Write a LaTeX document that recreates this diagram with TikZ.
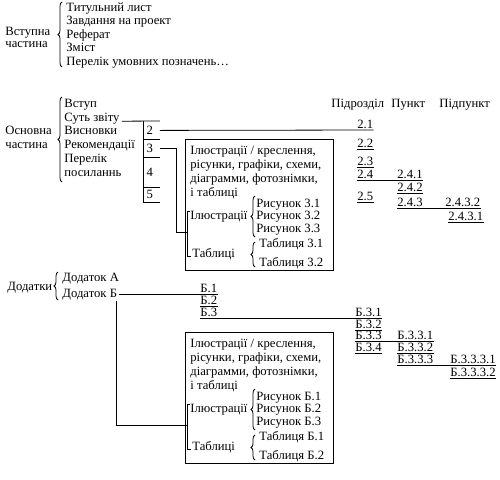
\documentclass[tikz,border=0pt]{standalone}
\usepackage{fontspec}
\setmainfont{Liberation Serif}
\usetikzlibrary{positioning,decorations.pathreplacing}

\begin{document}
\begin{tikzpicture}[x=0.75pt, y=-0.75pt, line width=0.6pt,
    font=\fontsize{9.5}{11}\selectfont,
    txt/.style={anchor=base west, inner sep=0pt},
    num/.style={anchor=south west, inner xsep=0pt, inner ysep=1.2pt, text depth=0pt},
    cell/.style={minimum width=12pt, inner xsep=2.5pt, inner ysep=0pt, text width=7pt, align=left},
    brc/.style={decorate, decoration={brace, amplitude=3pt}}]
  \useasboundingbox (0,0) rectangle (500,479);

  % Вступна частина
  \node[txt] (vst-1) at (5,35.5) {Вступна};
  \node[txt] (vst-2) at (5,47) {частина};
  \draw[brc] (62,67) -- (62,2);
  \foreach \t [count=\i from 0] in {Титульний лист, Завдання на проект, Реферат, Зміст, Перелік умовних позначень…}
    \node[txt] (vl-\i) at (66,11+13.6*\i) {\t};

  % Основна частина
  \node[txt] (osn-1) at (5,134.5) {Основна};
  \node[txt] (osn-2) at (5,148) {частина};
  \draw[brc] (62,182) -- (62,97);
  \foreach \t [count=\i from 0] in {Вступ, Суть звіту, Висновки, Рекомендації, Перелік, посиланнь}
    \node[txt] (ol-\i) at (64,107.5+13.7*\i) {\t};

  % колонка розділів
  \node[cell, minimum height=13.5pt, anchor=north west] (c2) at (143,121) {2};
  \node[cell, minimum height=12.75pt, below=0pt of c2] (c3) {3};
  \node[cell, minimum height=21.75pt, below=0pt of c3] (c4) {4};
  \node[cell, minimum height=10.5pt, below=0pt of c4] (c5) {5};
  \draw (c2.north west) -- (c5.south west);
  \foreach \c in {c2,c3,c4,c5}
    \draw (\c.south west) -- (\c.south east);
  \draw ([xshift=1.5pt]ol-1.base east) -- (c2.north east);

  % заголовки
  \node[txt] (h-sub) at (331,107.5) {Підрозділ};
  \node[txt] (h-pt) at (391,107.5) {Пункт};
  \node[txt] (h-ppt) at (439,107.5) {Підпункт};

  % номери розділу 2
  \foreach \n/\t/\x/\y in {n21/2.1/357/130, n22/2.2/357/149, n23/2.3/357/167,
      n24/2.4/357/180, n25/2.5/357/202, n241/2.4.1/397/180, n242/2.4.2/397/193,
      n243/2.4.3/397/208, n2432/2.4.3.2/445/208, n2431/2.4.3.1/448/222}
    \node[num] (\n) at (\x,\y) {\t};
  \foreach \n in {n22,n23,n24,n25,n241,n242,n243,n2432,n2431}
    \draw (\n.south west) -- (\n.south east);
  \draw (c2.east) -- (n21.south east);
  \draw (n24.south east) -- (n241.south west);
  \draw (n243.south east) -- (n2432.south west);

  % рамки з ілюстраціями
  \foreach \k/\p/\dy in {a/3/0, b/Б/193} {
    \node[draw, anchor=north west, minimum width=111pt, minimum height=98.25pt, inner sep=0pt] (box-\k) at (185,139+\dy) {};
    \foreach \t [count=\i from 0] in {{Ілюстрації / креслення,}, {рісунки, графіки, схеми,}, {діаграмми, фотознімки,}, {і таблиці}}
      \node[txt] (bt-\k-\i) at (190,154.5+\dy+14*\i) {\t};
    \node[txt] (il-\k) at (190,219.5+\dy) {Ілюстрації};
    \draw[brc] (255,237+\dy) -- (255,196+\dy);
    \foreach \j in {1,2,3}
      \node[txt] (ris-\k-\j) at (256,194.5+\dy+12.5*\j) {Рисунок \p.\j};
    \node[txt] (tb-\k) at (192,257.5+\dy) {Таблиці};
    \draw[brc] (255,267+\dy) -- (255,242+\dy);
    \node[txt] (tab-\k-1) at (259,247.5+\dy) {Таблиця \p.1};
    \node[txt] (tab-\k-2) at (259,266.5+\dy) {Таблиця \p.2};
    \draw (190,211+\dy) -- (187,211+\dy) -- (187,256+\dy) -- (191,256+\dy);
    \coordinate (brk-\k) at (187,232+\dy);
  }
  \draw (c3.east) -- ++(17,0) |- (brk-a);

  % Додатки
  \node[txt] (dod) at (7,290.5) {Додатки};
  \draw[brc] (58,300) -- (58,272);
  \node[txt] (da) at (62,281.5) {Додаток А};
  \node[txt] (db) at (62,297.5) {Додаток Б};

  \foreach \n/\t/\x/\y in {b1/Б.1/200/294, b2/Б.2/200/306.5, b3/Б.3/200/318.5,
      b31/Б.3.1/355/318.5, b32/Б.3.2/355/330, b33/Б.3.3/355/341.5, b34/Б.3.4/355/353,
      b331/Б.3.3.1/397/341.5, b332/Б.3.3.2/397/353, b333/Б.3.3.3/397/365,
      b3331/Б.3.3.3.1/450/365, b3332/Б.3.3.3.2/450/378}
    \node[num] (\n) at (\x,\y) {\t};
  \foreach \n in {b2,b3,b31,b32,b33,b34,b331,b332,b333,b3331,b3332}
    \draw (\n.south west) -- (\n.south east);
  \draw ([xshift=1.5pt]db.east) -- (db.east -| b1.south east);
  \draw (b3.south east) -- (b31.south west);
  \draw (b33.south east) -- (b331.south west);
  \draw (b333.south east) -- (b3331.south west);
  \draw ([xshift=40.5pt]db.south west) |- (brk-b);
\end{tikzpicture}
\end{document}
